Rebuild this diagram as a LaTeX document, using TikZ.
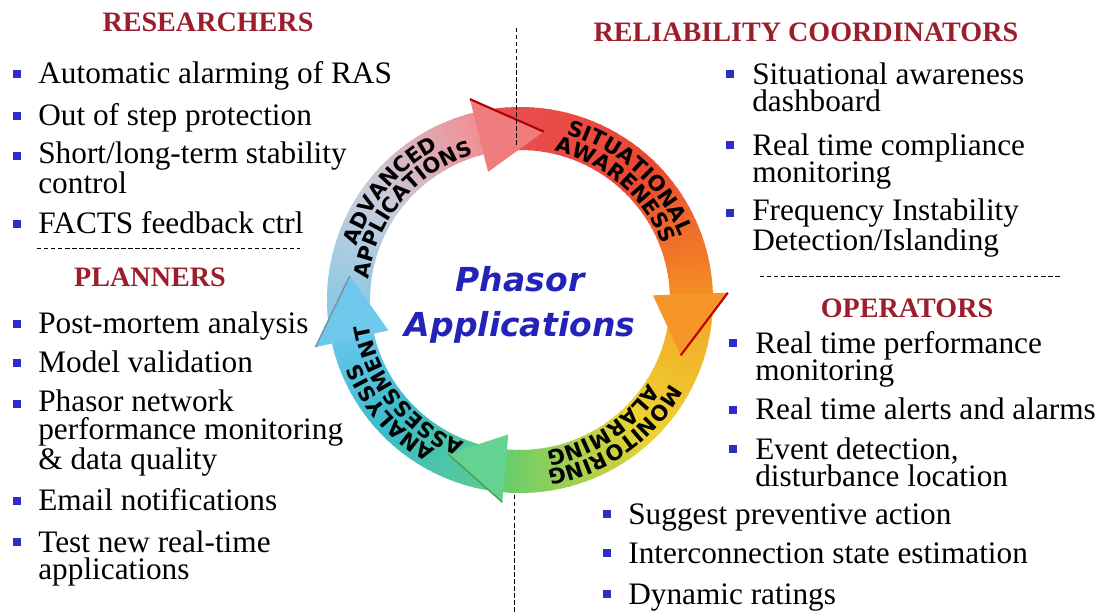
\documentclass[tikz,border=0pt]{standalone}
\usepackage{fontspec}
\setmainfont{Liberation Serif}
\newfontfamily\ringfamily{DejaVu Sans}
\newfontfamily\hubfamily{DejaVu Sans}
\usetikzlibrary{calc,decorations.text}

\definecolor{titlered}{RGB}{155,30,45}
\definecolor{bulletblue}{RGB}{45,45,200}
\definecolor{hubblue}{RGB}{35,35,185}
% ring colours, clockwise
\definecolor{sitA}{RGB}{232,78,82}
\definecolor{sitB}{RGB}{234,72,50}
\definecolor{sitC}{RGB}{244,140,38}
\definecolor{monA}{RGB}{246,165,40}
\definecolor{monB}{RGB}{236,210,50}
\definecolor{monC}{RGB}{105,205,105}
\definecolor{anaA}{RGB}{90,205,140}
\definecolor{anaB}{RGB}{60,188,200}
\definecolor{anaC}{RGB}{100,196,235}
\definecolor{advA}{RGB}{130,200,232}
\definecolor{advB}{RGB}{200,205,220}
\definecolor{advC}{RGB}{238,145,150}
\definecolor{headpink}{RGB}{240,125,125}
\definecolor{headorange}{RGB}{246,150,40}
\definecolor{headgreen}{RGB}{100,210,145}
\definecolor{headblue}{RGB}{110,200,235}

\newcommand\itemfont{\fontsize{17.8}{15.9}\selectfont}
\newcommand\headfont{\fontsize{16}{18}\selectfont\bfseries}
\newcommand\ringtxt{\ringfamily\bfseries\fontsize{12}{12}\selectfont}

% one shaft of the ring, in slices: start angle, end angle, start colour, end colour
\newcommand\ringband[4]{%
  \foreach \k in {0,...,19}{
    \pgfmathsetmacro\angA{#1+(#2-#1)*\k/20}
    \pgfmathsetmacro\angB{#1+(#2-#1)*(\k+1.3)/20}
    \pgfmathtruncatemacro\mixpc{100*\k/19}
    \fill[#4!\mixpc!#3] (\angA:150) arc[start angle=\angA, end angle=\angB, radius=150]
      -- (\angB:193) arc[start angle=\angB, end angle=\angA, radius=193] -- cycle;
  }}

\tikzset{
  item/.style={anchor=base west, inner sep=0pt, align=left, font=\itemfont},
  grouptitle/.style={anchor=base, inner sep=0pt, font=\headfont, text=titlered},
  bulletsq/.style={fill=bulletblue, inner sep=0pt, minimum size=4.4pt},
  divider/.style={dash pattern=on 2.5pt off 1.5pt, line width=0.5pt},
  hub/.style={anchor=base, inner sep=0pt, text=hubblue,
    font=\hubfamily\fontsize{18.8}{20}\selectfont\bfseries\itshape},
  arctext/.style={decorate, decoration={text along path, text align=center,
    text={|\ringtxt|#1}}}
}

\begin{document}
\begin{tikzpicture}[x=0.02cm,y=0.02cm]
\useasboundingbox (0,0) rectangle (1102,-614);

% the ring
\begin{scope}[shift={(520,-300)}]
\ringband{100}{47}{sitA}{sitB}
\ringband{47}{2}{sitB}{sitC}
\ringband{0}{-45}{monA}{monB}
\ringband{-45}{-95}{monB}{monC}
\ringband{-98}{-135}{anaA}{anaB}
\ringband{-135}{-167}{anaB}{anaC}
\ringband{189}{145}{advA}{advB}
\ringband{145}{104}{advB}{advC}
% arrow heads
\fill[headpink] (104:132) -- (104:207) -- (82:170) -- cycle;
\draw[red!70!black, line width=1.2pt] (104:207) -- (82:170);
\fill[headorange] (2:133) -- (2:208) -- (-19:170) -- cycle;
\draw[red!75!black, line width=1.2pt] (2:208) -- (-19:170);
\fill[headgreen] (-95:135) -- (-95:203) -- (-115:170) -- cycle;
\draw[green!45!black!70, line width=0.8pt] (-95:203) -- (-115:170);
\fill[headblue] (193:135) -- (193:210) -- (172:172) -- cycle;
\draw[cyan!40!black!70, line width=0.8pt] (193:210) -- (172:172);
% labels on the ring
\path[arctext=SITUATIONAL] (108:172) arc[start angle=108, end angle=-12, radius=172];
\path[arctext=AWARENESS] (109:153) arc[start angle=109, end angle=-11, radius=153];
\path[arctext=MONITORING] (5:172) arc[start angle=5, end angle=-115, radius=172];
\path[arctext=ALARMING] (3.5:153) arc[start angle=3.5, end angle=-116.5, radius=153];
\path[arctext=ANALYSIS] (281:172) arc[start angle=281, end angle=161, radius=172];
\path[arctext=ASSESSMENT] (279:153) arc[start angle=279, end angle=159, radius=153];
\path[arctext=ADVANCED] (200:172) arc[start angle=200, end angle=80, radius=172];
\path[arctext=APPLICATIONS] (200:153) arc[start angle=200, end angle=80, radius=153];
\end{scope}

\node[hub] (phasor) at (520,-292) {Phasor};
\node[hub] (apps) at (520,-337) {Applications};

% researchers and planners (multi-line items sit on their last line)
\node[grouptitle] (researchers) at (208,-32) {RESEARCHERS};
\node[item] (res1) at (38,-84) {Automatic alarming of RAS};
\node[item] (res2) at (38,-126) {Out of step protection};
\node[item] (res3) at (38,-194) {Short/long-term stability\\control};
\node[item] (res4) at (38,-234) {FACTS feedback ctrl};
\draw[divider] (37,-248) -- (300,-248);
\node[grouptitle] (planners) at (150,-287) {PLANNERS};
\node[item] (pl1) at (38,-334) {Post-mortem analysis};
\node[item] (pl2) at (38,-373) {Model validation};
\node[item] (pl3) at (38,-470) {Phasor network\\performance monitoring\\\& data quality};
\node[item] (pl4) at (38,-511) {Email notifications};
\node[item] (pl5) at (38,-580) {Test new real-time\\applications};
\foreach \y [count=\i] in {84,126,166,234,334,373,414,511,552}
  \node[bulletsq] (lb\i) at (17,{10-\y}) {};

% reliability coordinators and operators
\node[grouptitle] (coordinators) at (806,-42) {RELIABILITY COORDINATORS};
\node[item] (rc1) at (752,-112) {Situational awareness\\dashboard};
\node[item] (rc2) at (752,-183) {Real time compliance\\monitoring};
\node[item] (rc3) at (752,-251) {Frequency Instability\\Detection/Islanding};
\draw[divider] (760,-276) -- (1062,-276);
\node[grouptitle] (operators) at (907,-318) {OPERATORS};
\node[item] (op1) at (755,-381) {Real time performance\\monitoring};
\node[item] (op2) at (755,-420) {Real time alerts and alarms};
\node[item] (op3) at (755,-487) {Event detection,\\disturbance location};
\node[item] (op4) at (628,-524) {Suggest preventive action};
\node[item] (op5) at (628,-563) {Interconnection state estimation};
\node[item] (op6) at (628,-604) {Dynamic ratings};
\foreach \y [count=\i] in {84,155,223}
  \node[bulletsq] (rb\i) at (730,{10-\y}) {};
\foreach \y [count=\i] in {353,420,459}
  \node[bulletsq] (ob\i) at (733,{10-\y}) {};
\foreach \y [count=\i] in {524,563,604}
  \node[bulletsq] (sb\i) at (607,{10-\y}) {};

% split lines
\draw[divider] (516,-28) -- (516,-145);
\draw[divider] (514,-495) -- (514,-614);
\end{tikzpicture}
\end{document}
